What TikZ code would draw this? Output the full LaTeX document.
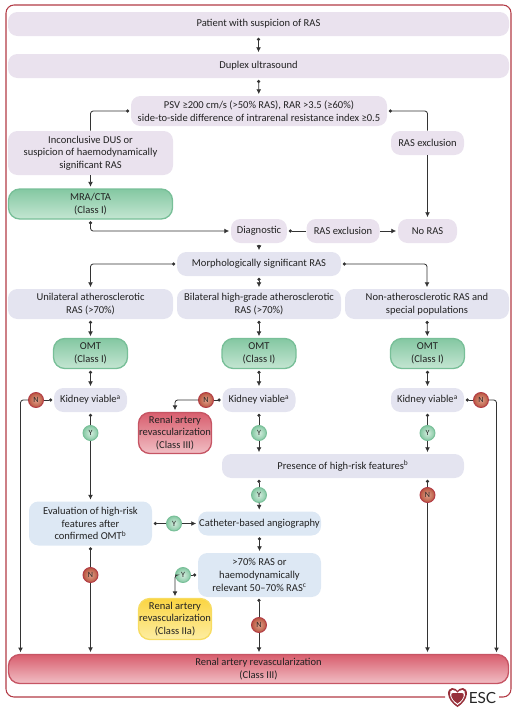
\documentclass[tikz,border=0pt]{standalone}
\usepackage{fontspec}
\setmainfont{Carlito}
\newfontfamily\logofont{Lato}
\usetikzlibrary{arrows.meta,shapes,backgrounds,positioning}
\definecolor{framered}{HTML}{B23A45}
\definecolor{boxpurple}{HTML}{EAE2EE}
\definecolor{boxlilac}{HTML}{E4E4F0}
\definecolor{boxblue}{HTML}{DDE8F4}
\definecolor{inktext}{HTML}{222222}
\definecolor{greentop}{HTML}{84C8A2}
\definecolor{greenbot}{HTML}{C4E6D2}
\definecolor{greenrim}{HTML}{78BF98}
\definecolor{redtop}{HTML}{D85E6E}
\definecolor{redbot}{HTML}{F1BEC4}
\definecolor{redrim}{HTML}{C65564}
\definecolor{yellowtop}{HTML}{FBD542}
\definecolor{yellowbot}{HTML}{FDEDA2}
\definecolor{yellowrim}{HTML}{F7DC62}
\definecolor{ballin}{HTML}{E0A28C}
\definecolor{ballout}{HTML}{B9553F}
\tikzset{
  wh/.style 2 args={minimum width=#1*0.75pt,minimum height=#2*0.75pt},
  box/.style={align=center,inner sep=0pt,rounded corners=7pt,text=inktext,font=\fontsize{7.9}{9.5}\selectfont},
  purplebox/.style={box,fill=boxpurple},
  lilacbox/.style={box,fill=boxlilac},
  bluebox/.style={box,fill=boxblue},
  greenbox/.style={box,rounded corners=8.5pt,draw=greenrim,line width=1pt,top color=greentop,bottom color=greenbot},
  redbox/.style={box,rounded corners=8.5pt,draw=redrim,line width=1pt,top color=redtop,bottom color=redbot},
  yellowbox/.style={box,rounded corners=8.5pt,draw=yellowrim,line width=1pt,top color=yellowtop,bottom color=yellowbot},
  yesball/.style={circle,inner sep=0pt,minimum size=15*0.75pt,draw=greenrim,line width=0.7pt,shading=radial,inner color=greenbot!70!white,outer color=greentop,text=inktext,font=\fontsize{6}{6}\selectfont},
  noball/.style={circle,inner sep=0pt,minimum size=15*0.75pt,draw=framered,line width=0.7pt,shading=radial,inner color=ballin,outer color=ballout,text=inktext,font=\fontsize{6}{6}\selectfont},
  link/.style={draw=black!80,line width=0.6pt,rounded corners=2pt},
  tipdot/.tip={Circle[length=2.4pt]},
  tiparr/.tip={Latex[length=3.6pt,width=3.6pt]},
  dotarr/.style={link,tipdot-tiparr,shorten <=1.2pt,shorten >=1.2pt},
  linearr/.style={link,-tiparr,shorten >=1.2pt},
  linedot/.style={link,-tipdot,shorten >=1.2pt}
}
\begin{document}
\begin{tikzpicture}[x=0.75pt,y=-0.75pt]
  \useasboundingbox (0,0) rectangle (520,711);
  \def\frameL{6}
  \def\frameR{511}
  \def\frameT{5}
  \def\frameB{697}

  \draw[framered,line width=0.8pt,rounded corners=6pt] (445,\frameB) -- (\frameL,\frameB) -- (\frameL,\frameT) -- (\frameR,\frameT) -- (\frameR,\frameB) -- (499,\frameB);

  \node[purplebox,wh={501}{24}] (patient) at (258.5,24) {Patient with suspicion of RAS};
  \node[purplebox,wh={501}{24}] (duplex) at (258.5,66) {Duplex ultrasound};
  \node[purplebox,wh={256}{30}] (psv) at (259,111) {PSV ≥200 cm/s (>50\% RAS), RAR >3.5 (≥60\%)\\side-to-side difference of intrarenal resistance index ≥0.5};
  \node[purplebox,wh={165}{44}] (inconclusive) at (90.5,153) {Inconclusive DUS or\\suspicion of haemodynamically\\significant RAS};
  \node[greenbox,wh={164}{30}] (mra) at (90.5,204) {MRA/CTA\\(Class I)};
  \node[purplebox,wh={73}{24}] (exclright) at (427.5,143) {RAS exclusion};
  \node[purplebox,wh={56}{24}] (diagnostic) at (259,231) {Diagnostic};
  \node[purplebox,wh={73}{24}] (exclmid) at (343,231) {RAS exclusion};
  \node[purplebox,wh={59}{24}] (noras) at (427.5,231) {No RAS};
  \node[lilacbox,wh={164}{24}] (morph) at (259,264) {Morphologically significant RAS};

  \node[lilacbox,wh={165}{30}] (unilat) at (90.5,304) {Unilateral atherosclerotic\\RAS (>70\%)};
  \node[lilacbox,wh={164}{30}] (bilat) at (259,304) {Bilateral high-grade atherosclerotic\\RAS (>70\%)};
  \node[lilacbox,wh={164}{30}] (nonath) at (427,304) {Non-atherosclerotic RAS and\\special populations};

  \node[greenbox,wh={74}{30}] (omtA) at (90.5,353.5) {OMT\\(Class I)};
  \node[greenbox,wh={74}{30}] (omtB) at (259,353.5) {OMT\\(Class I)};
  \node[greenbox,wh={74}{30}] (omtC) at (427.5,353.5) {OMT\\(Class I)};

  \node[lilacbox,wh={73}{24}] (kidneyA) at (90.5,400) {Kidney viable\textsuperscript{a}};
  \node[lilacbox,wh={73}{24}] (kidneyB) at (259,400) {Kidney viable\textsuperscript{a}};
  \node[lilacbox,wh={73}{24}] (kidneyC) at (427.5,400) {Kidney viable\textsuperscript{a}};

  \node[noball] (noA) at (36,400) {N};
  \node[noball] (noB) at (206,400) {N};
  \node[noball] (noC) at (481,400) {N};
  \node[yesball] (yesA) at (90.5,433) {Y};
  \node[yesball] (yesB) at (259,433) {Y};
  \node[yesball] (yesC) at (427.5,433) {Y};

  \node[redbox,wh={73}{41}] (revasc) at (175,433) {Renal artery\\revascularization\\(Class III)};
  \node[lilacbox,wh={242}{24}] (features) at (343,466) {Presence of high-risk features\textsuperscript{b}};
  \node[yesball] (yesD) at (259,495) {Y};
  \node[noball] (noD) at (427.5,495) {N};

  \node[bluebox,wh={123}{44}] (evaluation) at (90.5,523.5) {Evaluation of high-risk\\features after\\confirmed OMT\textsuperscript{b}};
  \node[bluebox,wh={123}{24}] (catheter) at (259.5,523.5) {Catheter-based angiography};
  \node[yesball] (yesE) at (174,523.5) {Y};
  \node[bluebox,wh={123}{44}] (relevant) at (259.5,575) {>70\% RAS or\\haemodynamically\\relevant 50–70\% RAS\textsuperscript{c}};
  \node[yesball] (yesF) at (183,575) {Y};
  \node[noball] (noE) at (90.5,575) {N};
  \node[noball] (noF) at (259,625) {N};
  \node[yellowbox,wh={73}{41}] (revascII) at (175,619) {Renal artery\\revascularization\\(Class IIa)};

  \node[redbox,wh={500}{29}] (bottom) at (258.5,669) {Renal artery revascularization\\(Class III)};

  \coordinate (leftdrop) at (20.5,654);
  \coordinate (rightdrop) at (496.5,654);

  \draw[dotarr] (patient) -- (duplex);
  \draw[dotarr] (duplex) -- (psv);
  \draw[linedot] (inconclusive.north) |- (psv.west);
  \draw[linearr] (inconclusive) -- (mra);
  \draw[dotarr] (mra.south) |- (diagnostic.west);
  \draw[linedot] (exclmid) -- (diagnostic);
  \draw[linearr] (exclmid) -- (noras);
  \draw[linedot] (exclright.north) |- (psv.east);
  \draw[linearr] (exclright) -- (noras);
  \draw[dotarr] (diagnostic) -- (morph);
  \draw[dotarr] (morph.west) -| (unilat.north);
  \draw[dotarr] (morph.east) -| (nonath.north);
  \draw[dotarr] (morph) -- (bilat);

  \draw[dotarr] (unilat) -- (omtA);
  \draw[dotarr] (bilat) -- (omtB);
  \draw[dotarr] (nonath) -- (omtC);
  \draw[dotarr] (omtA) -- (kidneyA);
  \draw[dotarr] (omtB) -- (kidneyB);
  \draw[dotarr] (omtC) -- (kidneyC);

  \draw[linedot] (noA) -- (kidneyA);
  \draw[linedot] (noB) -- (kidneyB);
  \draw[linedot] (noC) -- (kidneyC);
  \draw[linearr] (noA.west) -| (leftdrop);
  \draw[linearr] (noB.west) -| (revasc.north);
  \draw[linearr] (noC.east) -| (rightdrop);

  \draw[linedot] (yesA) -- (kidneyA);
  \draw[linedot] (yesB) -- (kidneyB);
  \draw[linedot] (yesC) -- (kidneyC);
  \draw[linearr] (yesA) -- (evaluation);
  \draw[linearr] (yesB) -- (yesB |- features.north);
  \draw[linearr] (yesC) -- (yesC |- features.north);
  \draw[linedot] (yesD) -- (yesD |- features.south);
  \draw[linearr] (yesD) -- (catheter);
  \draw[linedot] (noD) -- (noD |- features.south);
  \draw[linearr] (noD) -- (noD |- bottom.north);

  \draw[linedot] (yesE) -- (evaluation);
  \draw[linearr] (yesE) -- (catheter);
  \draw[dotarr] (catheter) -- (relevant);
  \draw[linedot] (yesF) -- (relevant);
  \draw[linearr] (yesF.west) -| (revascII.north);
  \draw[linedot] (noE) -- (evaluation);
  \draw[linearr] (noE) -- (noE |- bottom.north);
  \draw[linedot] (noF) -- (noF |- relevant.south);
  \draw[linearr] (noF) -- (noF |- bottom.north);

  \fill[framered!85!black] (457.5,707) .. controls (445,699) and (447,688) .. (452,688) .. controls (455,688) and (457,689.5) .. (457.5,691) .. controls (458,689.5) and (460,688) .. (463,688) .. controls (468,688) and (470,699) .. (457.5,707) -- cycle;
  \fill[white] (457.5,705) .. controls (448,698.5) and (449,690) .. (452.5,690) .. controls (455,690) and (457,691.5) .. (457.5,693) .. controls (458,691.5) and (460,690) .. (462.5,690) .. controls (466,690) and (467,698.5) .. (457.5,705) -- cycle;
  \fill[framered!85!black] (457.5,703.5) .. controls (450,698.5) and (450,693) .. (453,693) -- (462,693) .. controls (465,693) and (465,698.5) .. (457.5,703.5) -- cycle;
  \node[text=black!85,font=\logofont\fontsize{11.5}{12}\selectfont,inner sep=0pt] (esc) at (482.5,697.5) {ESC};
\end{tikzpicture}
\end{document}
